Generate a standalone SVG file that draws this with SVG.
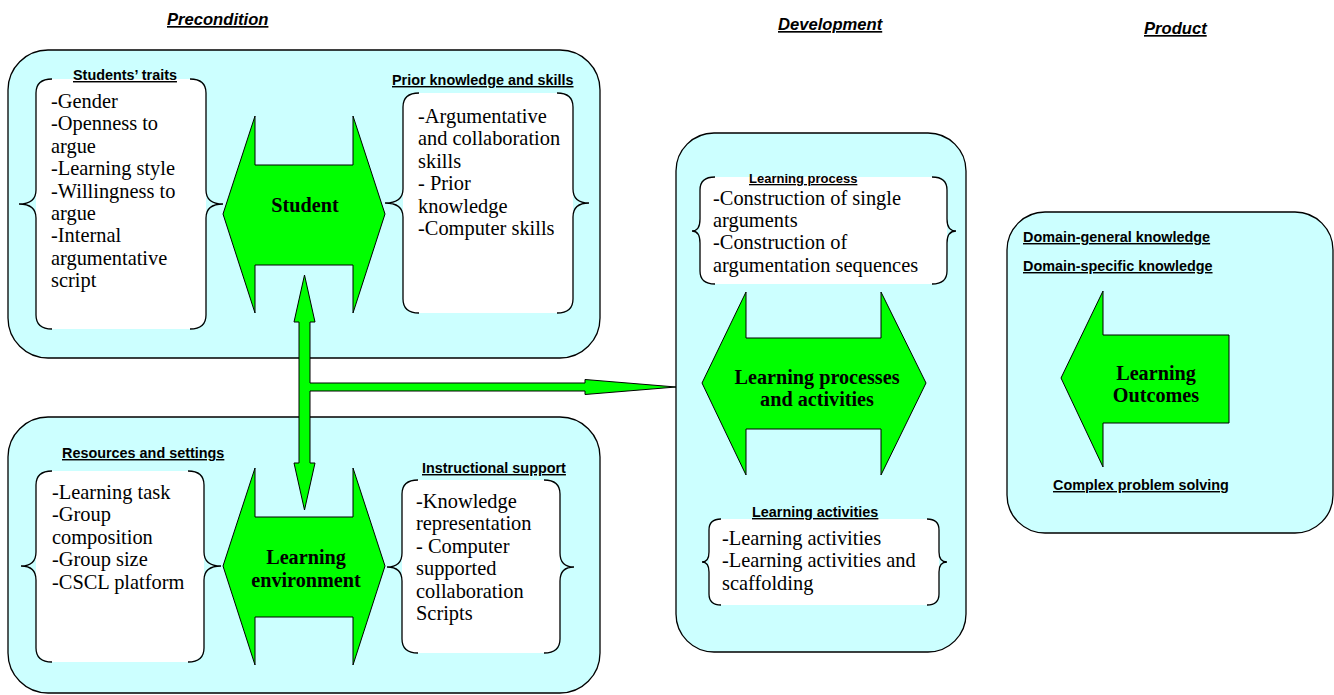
<svg xmlns="http://www.w3.org/2000/svg" width="1334" height="695" viewBox="0 0 1334 695">
<style>
.panel{fill:#CCFFFF;stroke:#000;stroke-width:1.3}
.box{fill:#fff;stroke:none}
.brace{fill:none;stroke:#000;stroke-width:1.3}
.green{fill:#00FF00;stroke:#000;stroke-width:1}
.hdr{font-family:"Liberation Sans",Arial,sans-serif;font-weight:bold;font-style:italic;font-size:16.6px;text-decoration:underline;fill:#000}
.sub{font-family:"Liberation Sans",Arial,sans-serif;font-weight:bold;font-size:14.4px;text-decoration:underline;fill:#000}
.body{font-family:"Liberation Serif","Times New Roman",serif;font-size:20.4px;fill:#000}
.lbl{font-family:"Liberation Serif","Times New Roman",serif;font-size:20.2px;font-weight:bold;fill:#000;text-anchor:middle}
</style>
<rect width="1334" height="695" fill="#fff"/>

<g id="headers">
<text class="hdr" x="167" y="25">Precondition</text>
<text class="hdr" x="778" y="30">Development</text>
<text class="hdr" x="1144" y="34">Product</text>
</g>

<g id="panel-student">
<rect class="panel" x="8" y="50" width="592" height="308" rx="40" ry="40"/>
</g>
<g id="panel-environment">
<rect class="panel" x="8" y="417" width="592" height="276" rx="40" ry="40"/>
</g>
<g id="panel-development">
<rect class="panel" x="676" y="133" width="290" height="519" rx="38" ry="38"/>
</g>
<g id="panel-product">
<rect class="panel" x="1007" y="212" width="326" height="321" rx="38" ry="38"/>
</g>

<g id="students-traits">
<rect class="box" x="36" y="79" width="170" height="250" rx="15"/>
<path class="brace" d="M52,79 Q36,79 36,93 L36,190 Q36,204 19,204 Q36,204 36,218 L36,315 Q36,329 52,329"/>
<path class="brace" d="M190,79 Q206,79 206,93 L206,190 Q206,204 223,204 Q206,204 206,218 L206,315 Q206,329 190,329"/>
<text class="sub" x="73" y="80">Students’ traits</text>
<text class="body" x="51" y="108">-Gender</text>
<text class="body" x="51" y="130.4">-Openness to</text>
<text class="body" x="51" y="152.8">argue</text>
<text class="body" x="51" y="175.2">-Learning style</text>
<text class="body" x="51" y="197.6">-Willingness to</text>
<text class="body" x="51" y="220">argue</text>
<text class="body" x="51" y="242.4">-Internal</text>
<text class="body" x="51" y="264.8">argumentative</text>
<text class="body" x="51" y="287.2">script</text>
</g>

<g id="prior-knowledge">
<rect class="box" x="403" y="93" width="170" height="220" rx="15"/>
<path class="brace" d="M419,93 Q403,93 403,107 L403,189 Q403,203 385,203 Q403,203 403,217 L403,299 Q403,313 419,313"/>
<path class="brace" d="M557,93 Q573,93 573,107 L573,189 Q573,203 589,203 Q573,203 573,217 L573,299 Q573,313 557,313"/>
<text class="sub" x="392" y="85">Prior knowledge and skills</text>
<text class="body" x="418" y="123">-Argumentative</text>
<text class="body" x="418" y="145.4">and collaboration</text>
<text class="body" x="418" y="167.8">skills</text>
<text class="body" x="418" y="190.2">- Prior</text>
<text class="body" x="418" y="212.6">knowledge</text>
<text class="body" x="418" y="235">-Computer skills</text>
</g>

<g id="student">
<polygon class="green" points="255,116 255,165 353,165 353,116 385,214 353,313 353,265 255,265 255,313 223,214"/>
<text class="lbl" x="305" y="212">Student</text>
</g>

<g id="resources-settings">
<rect class="box" x="36" y="471" width="168" height="191" rx="15"/>
<path class="brace" d="M52,471 Q36,471 36,485 L36,552 Q36,566 21,566 Q36,566 36,580 L36,648 Q36,662 52,662"/>
<path class="brace" d="M188,471 Q204,471 204,485 L204,552 Q204,566 221,566 Q204,566 204,580 L204,648 Q204,662 188,662"/>
<text class="sub" x="62" y="458">Resources and settings</text>
<text class="body" x="52" y="499">-Learning task</text>
<text class="body" x="52" y="521.4">-Group</text>
<text class="body" x="52" y="543.8">composition</text>
<text class="body" x="52" y="566.2">-Group size</text>
<text class="body" x="52" y="588.6">-CSCL platform</text>
</g>

<g id="instructional-support">
<rect class="box" x="402" y="480" width="158" height="173" rx="15"/>
<path class="brace" d="M418,480 Q402,480 402,494 L402,553 Q402,567 387,567 Q402,567 402,581 L402,639 Q402,653 418,653"/>
<path class="brace" d="M544,480 Q560,480 560,494 L560,553 Q560,567 574,567 Q560,567 560,581 L560,639 Q560,653 544,653"/>
<text class="sub" x="422" y="473">Instructional support</text>
<text class="body" x="416" y="508">-Knowledge</text>
<text class="body" x="416" y="530.4">representation</text>
<text class="body" x="416" y="552.8">- Computer</text>
<text class="body" x="416" y="575.2">supported</text>
<text class="body" x="416" y="597.6">collaboration</text>
<text class="body" x="416" y="620">Scripts</text>
</g>

<g id="learning-environment">
<polygon class="green" points="255,468 255,517 353,517 353,468 385,566 353,665 353,617 255,617 255,665 223,566"/>
<text class="lbl" x="306" y="564">Learning</text>
<text class="lbl" x="306" y="587">environment</text>
</g>

<g id="learning-process">
<rect class="box" x="700" y="177" width="247" height="107" rx="14"/>
<path class="brace" d="M715,177 Q700,177 700,190 L700,219 Q700,231 692,231 Q700,231 700,243 L700,271 Q700,284 715,284"/>
<path class="brace" d="M932,177 Q947,177 947,190 L947,219 Q947,231 956,231 Q947,231 947,243 L947,271 Q947,284 932,284"/>
<text class="sub" x="749" y="183" style="font-size:13px">Learning process</text>
<text class="body" x="713" y="204.5">-Construction of single</text>
<text class="body" x="713" y="226.9">arguments</text>
<text class="body" x="713" y="249.3">-Construction of</text>
<text class="body" x="713" y="271.7">argumentation sequences</text>
</g>

<g id="learning-processes-activities">
<polygon class="green" points="746,292 746,338 881,338 881,292 926,383 881,475 881,429 746,429 746,475 702,383"/>
<text class="lbl" x="817" y="384">Learning processes</text>
<text class="lbl" x="817" y="406">and activities</text>
</g>

<g id="learning-activities">
<rect class="box" x="709" y="519" width="230" height="86" rx="12"/>
<path class="brace" d="M721,519 Q709,519 709,530 L709,552 Q709,562 702,562 Q709,562 709,572 L709,594 Q709,605 721,605"/>
<path class="brace" d="M927,519 Q939,519 939,530 L939,552 Q939,562 947,562 Q939,562 939,572 L939,594 Q939,605 927,605"/>
<text class="sub" x="752" y="517">Learning activities</text>
<text class="body" x="722" y="545">-Learning activities</text>
<text class="body" x="722" y="567.4">-Learning activities and</text>
<text class="body" x="722" y="589.8">scaffolding</text>
</g>

<g id="learning-outcomes">
<text class="sub" x="1023" y="242">Domain-general knowledge</text>
<text class="sub" x="1023" y="271">Domain-specific knowledge</text>
<polygon class="green" points="1061,378 1103,291 1103,335 1229,335 1229,423 1103,423 1103,467"/>
<text class="lbl" x="1156" y="380">Learning</text>
<text class="lbl" x="1156" y="402">Outcomes</text>
<text class="sub" x="1053" y="490">Complex problem solving</text>
</g>

<g id="connectors">
<polygon class="green" points="304.5,275 315,322 310,322 310,383 585,383 585,379.5 676,387 585,394.5 585,391 310,391 310,463 315,463 304.5,510 294,463 299,463 299,322 294,322"/>
</g>
</svg>
